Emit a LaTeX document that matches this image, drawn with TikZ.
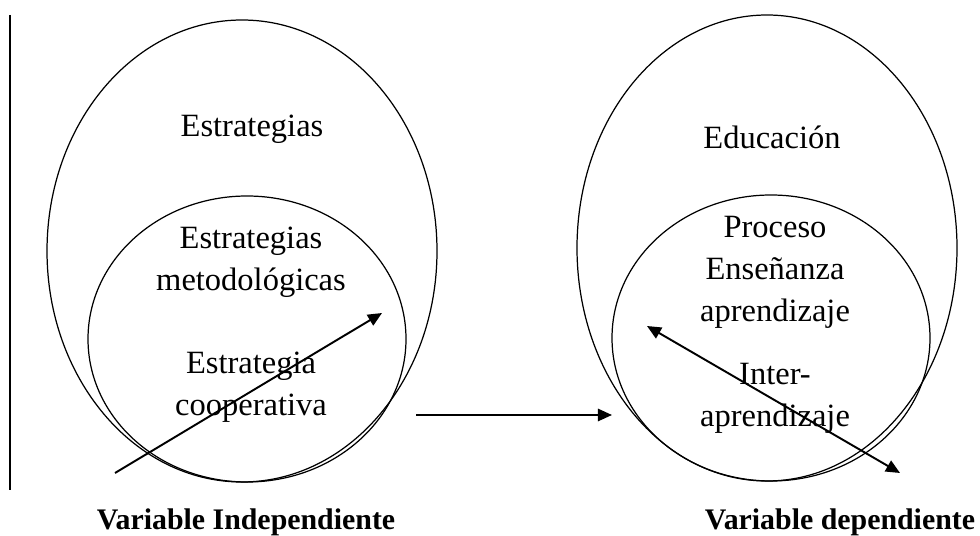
\documentclass[tikz,border=0pt]{standalone}
\usepackage{fontspec}
\setmainfont{Liberation Serif}
\usepackage{tikz}
\usetikzlibrary{positioning,arrows.meta}

\begin{document}
\begin{tikzpicture}[x=0.02cm,y=-0.02cm,
    txt/.style={align=center,font=\fontsize{18.5}{24}\selectfont},
    lbl/.style={font=\fontsize{17}{20}\selectfont\bfseries},
    conn/.style={line width=1.1pt,-{Triangle[length=8pt,width=7pt]}}]
    \useasboundingbox (0,0) rectangle (980,536);
    \draw[line width=1.7pt] (10,15) -- (10,490);
    % left circles
    \draw[line width=0.7pt] (242,251) ellipse [x radius=195,y radius=231];
    \draw[line width=0.7pt] (247,339) ellipse [x radius=159,y radius=143];
    % right circles
    \draw[line width=0.7pt] (767,248) ellipse [x radius=190,y radius=233];
    \draw[line width=0.7pt] (771,338) ellipse [x radius=159,y radius=143];
    \node[txt] (estr) at (252,129) {Estrategias};
    \node[txt] (metod) at (251,262) {Estrategias\\metodológicas};
    \node[txt] (coop) at (251,387) {Estrategia\\cooperativa};
    \node[txt] (educ) at (772,137) {Educación};
    \node[txt] (proc) at (775,272) {Proceso\\Enseñanza\\aprendizaje};
    \node[txt] (inter) at (775,398) {Inter-\\aprendizaje};
    \node[lbl] (vind) at (246,522) {Variable Independiente};
    \node[lbl] (vdep) at (840,522) {Variable dependiente};
    \coordinate (a1) at (115,473);
    \coordinate (a2) at (382,313);
    \coordinate (b1) at (416,415);
    \coordinate (b2) at (612,415);
    \coordinate (c1) at (647,326);
    \coordinate (c2) at (900,473);
    \draw[conn] (a1) -- (a2);
    \draw[conn] (b1) -- (b2);
    \draw[conn,{Triangle[length=8pt,width=7pt]}-{Triangle[length=8pt,width=7pt]}] (c1) -- (c2);
\end{tikzpicture}
\end{document}
